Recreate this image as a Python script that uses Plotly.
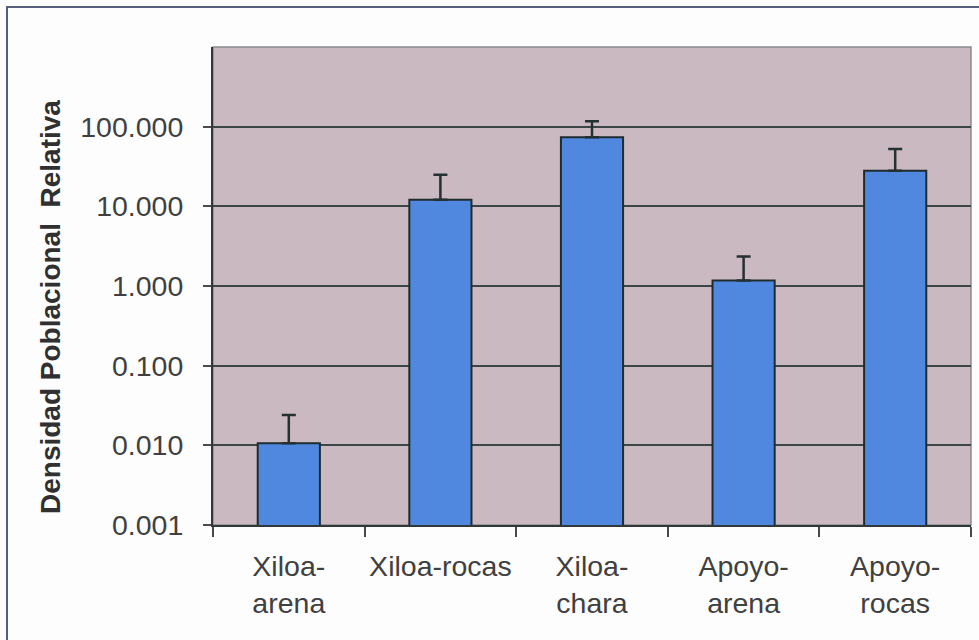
import plotly.graph_objects as go

# Relative population density per site / habitat (log scale)
categories = ["Xiloa-<br>arena", "Xiloa-rocas", "Xiloa-<br>chara", "Apoyo-<br>arena", "Apoyo-<br>rocas"]
density = [0.0106, 12.1, 73.4, 1.17, 28.0]
upper_limit = [0.0241, 24.9, 116.6, 2.35, 52.5]
tick_values = [0.001, 0.01, 0.1, 1, 10, 100]
tick_labels = ["0.001", "0.010", "0.100", "1.000", "10.000", "100.000"]
y_title = "Densidad Poblacional  Relativa"

err_plus = [u - d for u, d in zip(upper_limit, density)]

W, H = 979, 640
L, R, T, B = 213, 8, 47, 115
pw, ph = W - L - R, H - T - B

def px_x(x):
    return (x - L) / pw

def px_y(y):
    return 1 - (y - T) / ph

fig = go.Figure()
fig.add_trace(go.Bar(
    x=categories,
    y=density,
    width=0.41,
    marker=dict(color="#5088e0", line=dict(color="#1e2c2e", width=2)),
    error_y=dict(type="data", array=err_plus, arrayminus=[0] * len(density),
                 symmetric=False, color="#243032", thickness=2.5, width=7),
))

text_font = dict(family="Liberation Sans, Arial, sans-serif", size=28.5, color="#404040")

fig.update_layout(
    width=W, height=H,
    margin=dict(l=L, r=R, t=T, b=B),
    paper_bgcolor="#fdfdfd",
    plot_bgcolor="#cab9c1",
    showlegend=False,
    xaxis=dict(
        type="category",
        tickson="boundaries",
        ticks="outside", ticklen=10, tickwidth=1.5, tickcolor="#4a4a4a",
        showline=True, linecolor="#303838", linewidth=2,
        showgrid=False,
        tickfont=text_font,
        tickangle=0,
        ticklabelstandoff=15,
        range=[-0.5, 4.5],
    ),
    yaxis=dict(
        type="log",
        range=[-3, 3],
        tickvals=tick_values,
        ticktext=tick_labels,
        ticks="outside", ticklen=8, tickwidth=1.5, tickcolor="#4a4a4a",
        showline=True, linecolor="#303838", linewidth=2,
        showgrid=True, gridcolor="#3c4646", gridwidth=2,
        tickfont=text_font,
        ticklabelstandoff=14,
        zeroline=False,
    ),
    annotations=[
        dict(text=y_title, textangle=-90, showarrow=False,
             xref="paper", yref="paper", x=px_x(50), y=px_y(307),
             xanchor="center", yanchor="middle",
             font=dict(family="Liberation Sans, Arial, sans-serif", size=28,
                       color="#303030", weight="bold")),
    ],
    shapes=[
        # light border around the plotting area
        dict(type="rect", xref="paper", yref="paper", x0=0, y0=0, x1=1, y1=1,
             line=dict(color="#8a8a90", width=1.5), layer="below"),
        # outer frame of the chart
        dict(type="rect", xref="paper", yref="paper",
             x0=px_x(7), y0=px_y(660), x1=px_x(990), y1=px_y(7),
             line=dict(color="#56607a", width=2)),
    ],
)

fig.write_html("out.html")
